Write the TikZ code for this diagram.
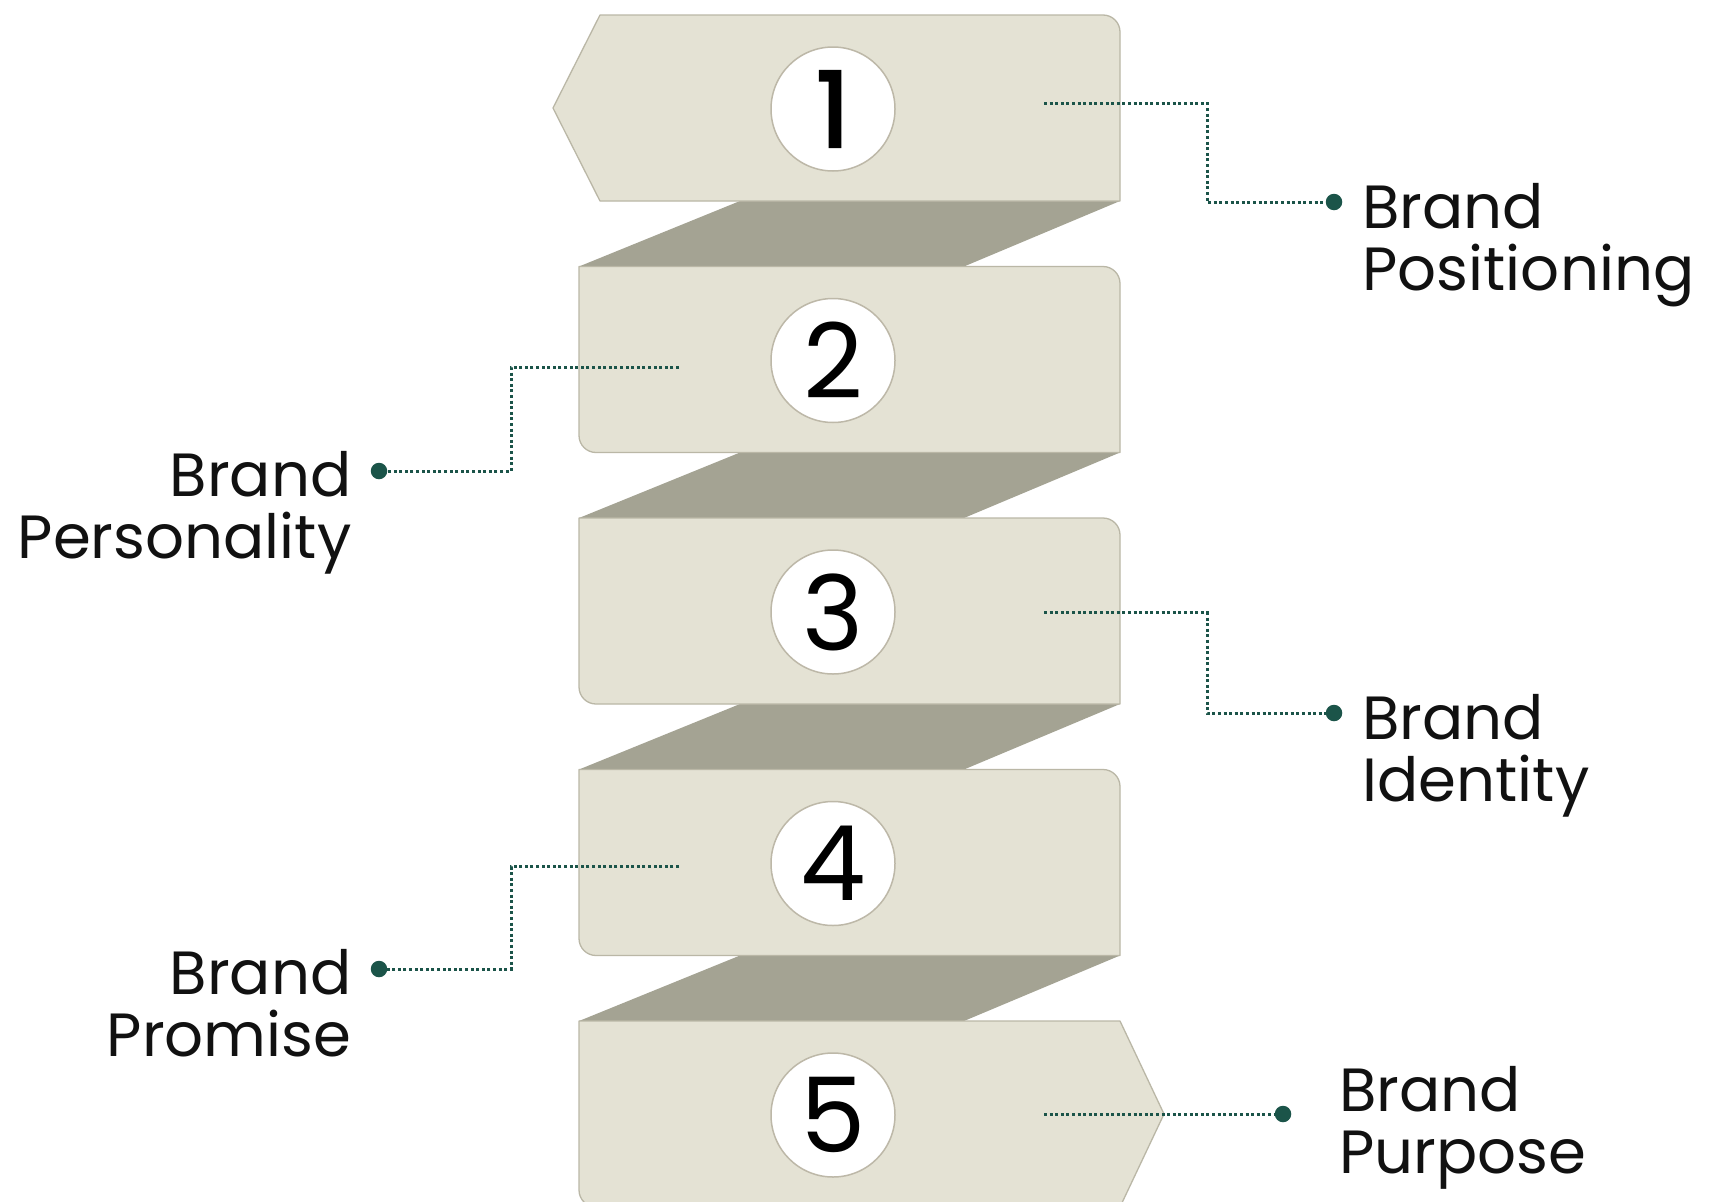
\documentclass[tikz,border=0pt]{standalone}
\usepackage{fontspec}
\setmainfont{Poppins}
\definecolor{panelfill}{HTML}{E4E2D4}
\definecolor{panelline}{HTML}{BAB7A6}
\definecolor{bandfill}{HTML}{A4A393}
\definecolor{circline}{HTML}{BDB8A8}
\definecolor{leadcol}{HTML}{1B5449}
\definecolor{ink}{HTML}{111111}
\begin{document}
\begin{tikzpicture}[x=1pt,y=-1pt,
  panel/.style={fill=panelfill, draw=panelline, line width=1.3pt, line join=round},
  band/.style={fill=bandfill},
  numcirc/.style={circle, minimum size=124pt, inner sep=0pt, fill=white, draw=circline, line width=1.5pt, font=\fontsize{104}{110}\selectfont, text=black},
  leader/.style={draw=leadcol, line width=3pt, dash pattern=on 3pt off 2.6pt},
  enddot/.style={circle, fill=leadcol, minimum size=16.5pt, inner sep=0pt},
  lbl/.style={font=\fontsize{61}{62}\selectfont, text=ink}]
\clip (0,0) rectangle (1709,1202);
\fill[white] (0,0) rectangle (1709,1202);
% bands
\foreach \i in {1,2,3,4}{
  \pgfmathsetmacro\Bt{15+251.5*(\i-1)+186}
  \pgfmathsetmacro\Tn{15+251.5*\i}
  \fill[band] (740,\Bt) -- (1120,\Bt) -- (964,\Tn) -- (579,\Tn) -- cycle;
}
% panel 1
\draw[panel] (600,15) -- (1103,15) .. controls (1112.39,15) and (1120,22.61) .. (1120,32)
  -- (1120,201) -- (600,201) -- (553,108) -- cycle;
% panels 2-4
\foreach \i in {2,3,4}{
  \pgfmathsetmacro\T{15+251.5*(\i-1)}
  \pgfmathsetmacro\B{\T+186}
  \draw[panel] (579,\T) -- (1103,\T) .. controls (1112.39,\T) and (1120,\T+7.61) .. (1120,\T+17)
    -- (1120,\B) -- (596,\B) .. controls (586.61,\B) and (579,\B-7.61) .. (579,\B-17) -- cycle;
}
% panel 5
\draw[panel] (579,1021) -- (1120,1021) -- (1164,1114) -- (1120,1207) -- (596,1207)
  .. controls (586.61,1207) and (579,1199.39) .. (579,1190) -- cycle;
% number circles
\node[numcirc] (n1) at (833,109) {\addfontfeature{FakeBold=3}1};
\node[numcirc] (n2) at (833,360.5) {2};
\node[numcirc] (n3) at (833,612) {3};
\node[numcirc] (n4) at (833,863.5) {4};
\node[numcirc] (n5) at (833,1115) {5};
% connectors
\coordinate (s1) at (1044,103);
\coordinate (s2) at (679,367);
\coordinate (s3) at (1044,612.5);
\coordinate (s4) at (679,866.5);
\coordinate (s5) at (1044,1114);
\node[enddot] (d1) at (1334,202) {};
\node[enddot] (d2) at (379,471) {};
\node[enddot] (d3) at (1334,713) {};
\node[enddot] (d4) at (379,969) {};
\node[enddot] (d5) at (1283,1114) {};
\draw[leader] (s1) -- ++(163,0) |- (d1);
\draw[leader] (s2) -- ++(-168,0) |- (d2);
\draw[leader] (s3) -- ++(163,0) |- (d3);
\draw[leader] (s4) -- ++(-168,0) |- (d4);
\draw[leader] (s5) -- (d5);
% labels (base anchor = baseline of last line)
\node[lbl, anchor=base west, align=left] (l1) at (1359,290) {Brand\\Positioning};
\node[lbl, anchor=base east, align=right] (l2) at (355,558) {Brand\\Personality};
\node[lbl, anchor=base west, align=left] (l3) at (1359,801) {Brand\\Identity};
\node[lbl, anchor=base east, align=right] (l4) at (355,1056) {Brand\\Promise};
\node[lbl, anchor=base west, align=left] (l5) at (1336,1173) {Brand\\Purpose};
\end{tikzpicture}
\end{document}
